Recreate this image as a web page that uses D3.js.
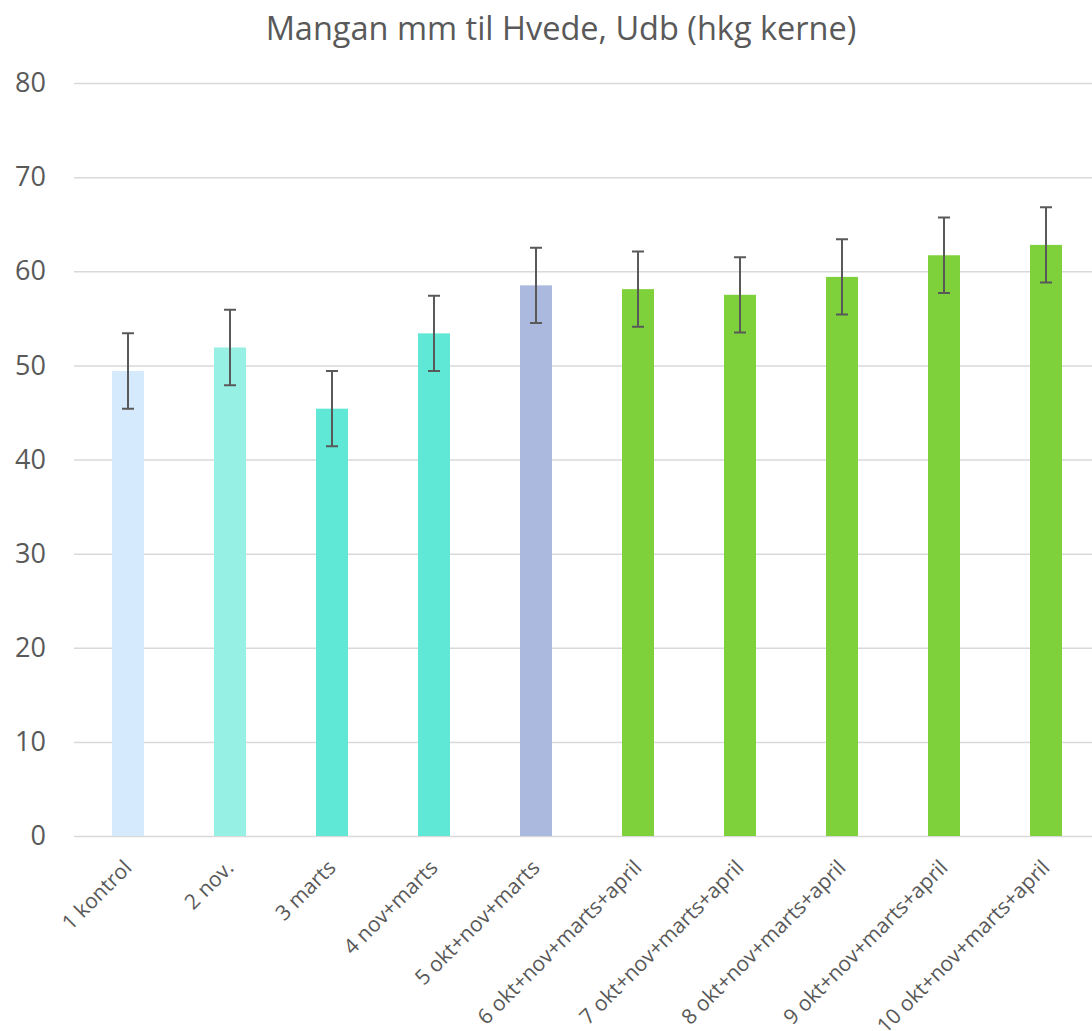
<!DOCTYPE html>
<meta charset="utf-8">
<style>
    body { margin: 0; background: #fff; }
    svg text { font-family: "Open Sans", sans-serif; fill: #595959; }
    .grid line { stroke: #d9d9d9; stroke-width: 1.5; }
    .grid path { display: none; }
    .axis--y path, .axis--y line { display: none; }
    .axis--x path, .axis--x line { display: none; }
    .err { stroke: #595959; stroke-width: 2; fill: none; }
</style>
<svg width="1092" height="1031"></svg>
<script src="https://cdn.jsdelivr.net/npm/d3@7"></script>
<script>

    var categories = ["1 kontrol", "2 nov.", "3 marts", "4 nov+marts", "5 okt+nov+marts",
        "6 okt+nov+marts+april", "7 okt+nov+marts+april", "8 okt+nov+marts+april",
        "9 okt+nov+marts+april", "10 okt+nov+marts+april"];
    var values = [49.4, 51.9, 45.4, 53.4, 58.5, 58.1, 57.5, 59.4, 61.7, 62.8];
    var errors = [4.0, 4.0, 4.0, 4.0, 4.0, 4.0, 4.0, 4.0, 4.0, 4.0];
    var colors = ["#d5eafc", "#97f0e4", "#5fe8d6", "#5fe8d6", "#aab9dd",
        "#7fd13b", "#7fd13b", "#7fd13b", "#7fd13b", "#7fd13b"];
    var yTicks = [0, 10, 20, 30, 40, 50, 60, 70, 80];
    var title = "Mangan mm til Hvede, Udb (hkg kerne)";

    var svg = d3.select("svg"),
        margin = {top: 83, right: -5, bottom: 195, left: 77},
        width = +svg.attr("width") - margin.left - margin.right,
        height = +svg.attr("height") - margin.top - margin.bottom;

    var data = categories.map(function(c, i) {
        return {key: c, value: values[i], err: errors[i], color: colors[i]};
    });

    var x = d3.scaleBand()
        .domain(categories)
        .range([0, width]);

    var y = d3.scaleLinear()
        .domain([0, 80])
        .range([height, 0]);

    var barWidth = 32;

    svg.append("text")
        .attr("x", 561)
        .attr("y", 40)
        .attr("text-anchor", "middle")
        .style("font-size", "32.5px")
        .text(title);

    var g = svg.append("g")
        .attr("transform", "translate(" + margin.left + "," + margin.top + ")");

    // gridlines
    g.append("g")
        .attr("class", "grid")
        .attr("transform", "translate(-3,0)")
        .call(d3.axisLeft(y).tickValues(yTicks).tickSize(-width - 3).tickFormat(""));

    g.append("g")
        .attr("class", "axis axis--y")
        .call(d3.axisLeft(y).tickValues(yTicks).tickSize(0).tickPadding(31))
        .selectAll("text")
        .style("font-size", "27px")
        .style("fill", "#595959");

    g.selectAll(".bar")
        .data(data)
        .enter().append("rect")
        .attr("class", "bar")
        .attr("x", function(d) { return x(d.key) + x.bandwidth() / 2 - barWidth / 2; })
        .attr("y", function(d) { return y(d.value); })
        .attr("width", barWidth)
        .attr("height", function(d) { return height - y(d.value); })
        .attr("fill", function(d) { return d.color; });

    // error bars
    var eb = g.selectAll(".errbar")
        .data(data)
        .enter().append("g")
        .attr("class", "errbar")
        .attr("transform", function(d) { return "translate(" + (x(d.key) + x.bandwidth() / 2) + ",0)"; });

    eb.append("path")
        .attr("class", "err")
        .attr("d", function(d) {
            var t = y(d.value + d.err), b = y(d.value - d.err);
            return "M0," + t + "V" + b + "M-6," + t + "H6M-6," + b + "H6";
        });

    g.append("g")
        .attr("class", "axis axis--x")
        .attr("transform", "translate(0," + height + ")")
        .call(d3.axisBottom(x).tickSize(0))
        .selectAll("text")
        .style("font-size", "21px")
        .style("fill", "#595959")
        .attr("text-anchor", "end")
        .attr("x", 0)
        .attr("y", 0)
        .attr("dy", 0)
        .attr("transform", "translate(5,33) rotate(-45)");
</script>
